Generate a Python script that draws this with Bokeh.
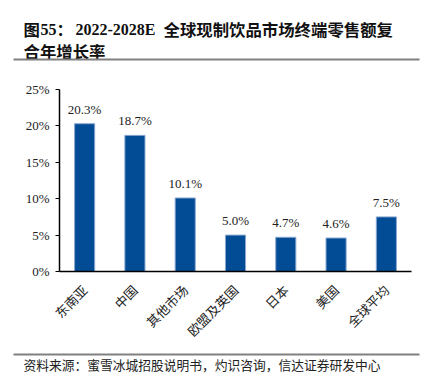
from bokeh.plotting import figure
from bokeh.models import FactorRange, Range1d, ColumnDataSource
from bokeh.core.properties import value
from bokeh.embed import file_html
from bokeh.resources import INLINE
import math

categories = ["东南亚", "中国", "其他市场", "欧盟及英国", "日本", "美国", "全球平均"]
cagr = [20.3, 18.7, 10.1, 5.0, 4.7, 4.6, 7.5]
y_ticks = [0, 5, 10, 15, 20, 25]
y_tick_labels = ["0%", "5%", "10%", "15%", "20%", "25%"]
title_cjk_parts = ["图", "：", "全球现制饮品市场终端零售额复", "合年增长率"]
title_latin_parts = ["55", "2022-2028E"]
source_text = "资料来源：蜜雪冰城招股说明书，灼识咨询，信达证券研发中心"

W = 429


def blank(h):
    f = figure(width=W, height=h, x_range=Range1d(0, W), y_range=Range1d(h, 0),
               min_border=0, output_backend="svg", toolbar_location=None, tools="",
               x_axis_location=None, y_axis_location=None)
    f.outline_line_color = None
    f.xgrid.grid_line_color = None
    f.ygrid.grid_line_color = None
    return f


# header
hdr = blank(62)
hdr.text(x=[23, 56, 163, 23], y=[28, 28, 28, 50], text=title_cjk_parts, text_baseline="middle",
         text_font=value("Noto Sans CJK SC"), text_font_style="bold",
         text_font_size="16.4px", text_color="#111111")
hdr.text(x=[40, 75], y=[29, 29], text=title_latin_parts, text_baseline="middle",
         text_font=value("Liberation Serif"), text_font_style="bold",
         text_font_size="16px", text_color="#111111")
hdr.segment(x0=[13], y0=[59], x1=[419], y1=[59], line_color="#808080", line_width=2)

# main chart
src = ColumnDataSource(dict(cat=categories, val=cagr, lab=[f"{v:.1f}%" for v in cagr]))
p = figure(x_range=FactorRange(factors=categories, range_padding=0),
           y_range=Range1d(0, 25),
           width=W, height=289,
           min_border_left=59, min_border_right=18, min_border_top=27, min_border_bottom=80,
           output_backend="svg", toolbar_location=None, tools="")
p.outline_line_color = None
p.xgrid.grid_line_color = None
p.ygrid.grid_line_color = None

p.vbar(x="cat", top="val", width=0.4, source=src, fill_color="#014C94",
       line_color="#8AA8D2", line_width=1)
p.text(x="cat", y="val", text="lab", source=src, text_align="center", text_baseline="bottom",
       y_offset=-7, text_font=value("Liberation Serif"), text_font_size="13px", text_color="#222222")

ya = p.yaxis[0]
ya.ticker = y_ticks
ya.major_label_overrides = {t: l for t, l in zip(y_ticks, y_tick_labels)}
ya.axis_line_color = "black"
ya.axis_line_width = 1.5
ya.major_tick_out = 4
ya.major_tick_in = 0
ya.major_tick_line_color = "black"
ya.minor_tick_line_color = None
ya.major_label_text_font = "Liberation Serif"
ya.major_label_text_font_size = "13px"
ya.major_label_text_color = "#222222"
ya.major_label_standoff = 6

xa = p.xaxis[0]
xa.axis_line_color = "black"
xa.axis_line_width = 1.5
xa.major_tick_line_color = None
xa.minor_tick_line_color = None
xa.major_label_orientation = math.pi / 4
xa.major_label_text_font = "Noto Sans CJK SC"
xa.major_label_text_font_size = "13px"
xa.major_label_text_color = "#222222"
xa.major_label_standoff = 10

# footer
ftr = blank(37)
ftr.segment(x0=[13], y0=[3], x1=[419], y1=[3], line_color="#808080", line_width=2)
ftr.text(x=[23], y=[13], text=[source_text], text_baseline="middle",
         text_font=value("Noto Sans CJK SC"), text_font_size="12.75px", text_color="#222222")

open("out.html", "w").write(file_html([hdr, p, ftr], INLINE))
